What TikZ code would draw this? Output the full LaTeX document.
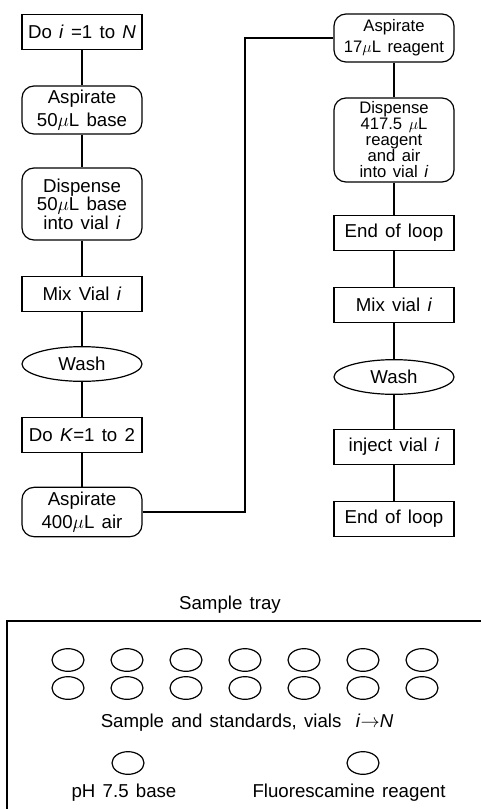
\documentclass[tikz,border=0pt]{standalone}
\usepackage{fontspec}
\setmainfont{Liberation Sans}[WordSpace=1.4]
\usetikzlibrary{shapes.geometric}

\tikzset{
  sqbox/.style={draw,rectangle,minimum width=90pt,minimum height=26pt,inner sep=1pt,align=center},
  rndbox/.style={draw,rectangle,rounded corners=9pt,minimum width=90pt,inner sep=1pt,align=center},
  ovalbox/.style={draw,ellipse,minimum width=90pt,minimum height=26pt,inner sep=0pt},
  vial/.style={draw,ellipse,minimum width=24pt,minimum height=17pt,inner sep=0pt},
}

\begin{document}
\begin{tikzpicture}[x=0.75pt,y=-0.75pt,line width=0.9pt,every node/.style={font=\fontsize{14}{17}\selectfont}]
\useasboundingbox (0,0) rectangle (481,809);
% left column
\node[sqbox] (doi) at (82,32) {Do \textit{i} =1 to \textit{N}};
\node[rndbox,minimum height=36pt] (asp50) at (82,110) {Aspirate\\50$\mu$L base};
\node[rndbox,minimum height=54pt,font=\fontsize{14}{14}\selectfont] (disp50) at (82,204) {Dispense\\50$\mu$L base\\into vial \textit{i}};
\node[sqbox] (mixl) at (82,294) {Mix Vial \textit{i}};
\node[ovalbox] (washl) at (82,364) {Wash};
\node[sqbox] (dok) at (82,435) {Do \textit{K}=1 to 2};
\node[rndbox,minimum height=37pt] (asp400) at (82,512) {Aspirate\\400$\mu$L air};
% right column
\node[rndbox,minimum height=36pt,font=\fontsize{12.5}{16}\selectfont] (asp17) at (394,38) {Aspirate\\17$\mu$L reagent};
\node[rndbox,minimum height=63pt,font=\fontsize{12.5}{12}\selectfont] (disp417) at (394,140) {Dispense\\417.5 $\mu$L\\reagent\\and air\\into vial \textit{i}};
\node[sqbox] (eol1) at (394,233) {End of loop};
\node[sqbox] (mixr) at (394,305) {Mix vial \textit{i}};
\node[ovalbox] (washr) at (394,377) {Wash};
\node[sqbox] (inj) at (394,447) {inject vial \textit{i}};
\node[sqbox] (eol2) at (394,519) {End of loop};
% links
\draw (doi) -- (asp50);
\draw (asp50) -- (disp50);
\draw (disp50) -- (mixl);
\draw (mixl) -- (washl);
\draw (washl) -- (dok);
\draw (dok) -- (asp400);
\coordinate (turn) at (245,512);
\draw (asp400) -- (turn) |- (asp17);
\draw (asp17) -- (disp417);
\draw (disp417) -- (eol1);
\draw (eol1) -- (mixr);
\draw (mixr) -- (washr);
\draw (washr) -- (inj);
\draw (inj) -- (eol2);
% sample tray
\node (traylbl) at (230,605) {Sample tray};
\draw (7,809) |- (481,621);
\foreach \k in {0,...,6} {
  \node[vial] (vtop\k) at (68+59*\k,660) {};
  \node[vial] (vbot\k) at (68+59*\k,688) {};
}
\node (stdlbl) at (247,723) {Sample and standards, vials \ \textit{i}$\rightarrow$\textit{N}};
\node[vial] (vbase) at (128,763) {};
\node[vial] (vreag) at (363,763) {};
\node (baselbl) at (124,793) {pH 7.5 base};
\node (reaglbl) at (349,793) {Fluorescamine reagent};
\end{tikzpicture}
\end{document}
